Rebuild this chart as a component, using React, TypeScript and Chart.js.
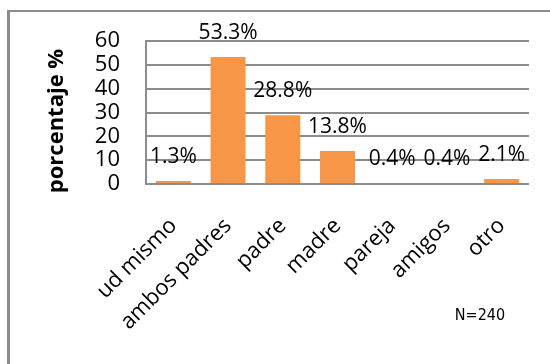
import React, { useEffect, useRef } from "react";
import { Chart, registerables } from "chart.js";

Chart.register(...registerables);

const categories = ["ud mismo", "ambos padres", "padre", "madre", "pareja", "amigos", "otro"];
const percentages = [1.3, 53.3, 28.8, 13.8, 0.4, 0.4, 2.1];
const yTicks = [0, 10, 20, 30, 40, 50, 60];
const yTitle = "porcentaje %";
const sampleNote = "N=240";

const BAR_COLOR = "#F79646";
const GRID_COLOR = "#8c8c8c";
const FONT = "'Open Sans', 'Liberation Sans', sans-serif";

// Percentage labels above each bar, plus the rotated axis title and the sample size note.
const annotations = {
  id: "annotations",
  afterDatasetsDraw(chart: any) {
    const ctx = chart.ctx;
    const meta = chart.getDatasetMeta(0);
    ctx.save();
    ctx.fillStyle = "#000";
    ctx.font = `21px ${FONT}`;
    ctx.textAlign = "center";
    ctx.textBaseline = "middle";
    meta.data.forEach((bar: any, i: number) => {
      ctx.fillText(`${percentages[i].toFixed(1)}%`, bar.x, bar.y - 24);
    });

    ctx.font = `bold 22px ${FONT}`;
    ctx.translate(57, 121);
    ctx.rotate(-Math.PI / 2);
    ctx.fillText(yTitle, 0, 0);
    ctx.restore();

    ctx.save();
    ctx.fillStyle = "#000";
    ctx.font = `16px 'DejaVu Sans Condensed', 'Liberation Sans', sans-serif`;
    ctx.textAlign = "center";
    ctx.textBaseline = "middle";
    ctx.fillText(sampleNote, 480, 316);
    ctx.restore();
  },
};

export default function App() {
  const canvasRef = useRef<HTMLCanvasElement | null>(null);

  useEffect(() => {
    if (!canvasRef.current) return;
    const chart = new Chart(canvasRef.current, {
      type: "bar",
      data: {
        labels: categories,
        datasets: [
          {
            data: percentages,
            backgroundColor: BAR_COLOR,
            borderWidth: 0,
            barPercentage: 0.64,
            categoryPercentage: 1,
          },
        ],
      },
      options: {
        animation: false,
        responsive: false,
        layout: { padding: { top: 41, right: 21, left: 0, bottom: 0 } },
        plugins: {
          legend: { display: false },
          tooltip: { enabled: false },
        },
        scales: {
          x: {
            grid: { display: false },
            border: { display: false },
            ticks: {
              autoSkip: false,
              maxRotation: 45,
              minRotation: 45,
              padding: 21,
              color: "#000",
              font: { family: FONT, size: 22 },
            },
            afterFit(scale: any) {
              scale.height = 180;
            },
          },
          y: {
            min: yTicks[0],
            max: yTicks[yTicks.length - 1],
            grid: { color: GRID_COLOR, lineWidth: 2, drawTicks: false },
            border: { display: true, color: GRID_COLOR, width: 2 },
            afterBuildTicks(scale: any) {
              scale.ticks = yTicks.map((v) => ({ value: v }));
            },
            ticks: {
              autoSkip: false,
              stepSize: 10,
              padding: 26,
              color: "#000",
              font: { family: FONT, size: 22 },
            },
            afterFit(scale: any) {
              scale.width = 146;
            },
          },
        },
      },
      plugins: [annotations],
    });
    return () => chart.destroy();
  }, []);

  return (
    <div style={{ position: "fixed", left: 0, top: 0, width: 550, height: 364, background: "#fff", overflow: "hidden" }}>
      <div
        style={{
          position: "absolute",
          left: 7,
          top: 10,
          right: -10,
          bottom: -10,
          borderLeft: `3px solid ${GRID_COLOR}`,
          borderTop: `2px solid ${GRID_COLOR}`,
        }}
      />
      <canvas ref={canvasRef} width={550} height={364} style={{ position: "absolute", left: 0, top: 0 }} />
    </div>
  );
}
